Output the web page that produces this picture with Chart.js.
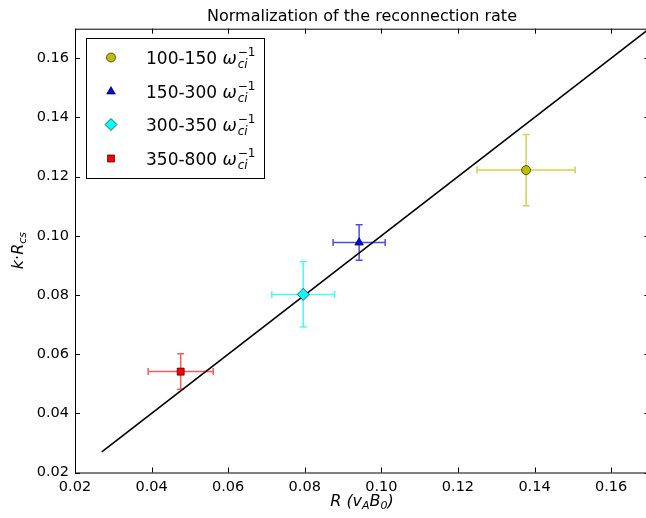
<!DOCTYPE html>
<html>
<head>
<meta charset="utf-8">
<script src="https://cdn.jsdelivr.net/npm/chart.js@4"></script>
<style>
  html, body { margin: 0; padding: 0; background: #fff; overflow: hidden; }
  #wrap { width: 656px; height: 518px; }
</style>
</head>
<body>
<div id="wrap"><canvas id="chart" width="656" height="518"></canvas></div>
<script>
/* ----------------------------------------------------------
   Data
   ---------------------------------------------------------- */
const seriesLabels = ['100-150', '150-300', '300-350', '350-800'];
const rValues   = [0.1378, 0.0942, 0.0796, 0.0476];
const kRValues  = [0.1222, 0.0977, 0.0802, 0.0541];
const rErrors   = [0.0128, 0.0068, 0.0082, 0.0085];
const kRErrors  = [0.0120, 0.0060, 0.0110, 0.0060];

const fitR  = [0.027, 0.17];
const fitKR = [0.027, 0.17];

const xTicks = [0.02, 0.04, 0.06, 0.08, 0.10, 0.12, 0.14, 0.16];
const yTicks = [0.02, 0.04, 0.06, 0.08, 0.10, 0.12, 0.14, 0.16];

/* ----------------------------------------------------------
   Styling
   ---------------------------------------------------------- */
const FONT = "'DejaVu Sans', sans-serif";
const markerFill   = ['#bfbf00', '#0000ff', '#00ffff', '#ff0000'];
const errColor     = ['rgba(191,191,0,0.7)', 'rgba(0,0,230,0.7)', 'rgba(0,255,255,0.75)', 'rgba(255,0,0,0.65)'];
const markerStyle  = ['circle', 'triangle', 'rectRot', 'rect'];
const markerRadius = [4.5, 5, 6, 5];

const datasets = seriesLabels.map((lab, i) => ({
  type: 'scatter',
  label: lab,
  data: [{ x: rValues[i], y: kRValues[i] }],
  pointStyle: markerStyle[i],
  pointRadius: markerRadius[i],
  pointHoverRadius: markerRadius[i],
  backgroundColor: markerFill[i],
  borderColor: '#000',
  borderWidth: 0.6,
  order: 1,
}));

datasets.push({
  type: 'line',
  label: 'fit',
  data: fitR.map((r, i) => ({ x: r, y: fitKR[i] })),
  borderColor: '#000',
  borderWidth: 1.6,
  pointRadius: 0,
  fill: false,
  order: 2,
});

/* ----------------------------------------------------------
   Plugin: error bars, frame, inward ticks, legend, titles
   ---------------------------------------------------------- */
function drawText(ctx, parts, x, y) {
  // parts: [{t, size, italic, dy}]
  let cx = x;
  parts.forEach(p => {
    ctx.font = `${p.italic ? 'italic ' : ''}${p.size}px ${FONT}`;
    ctx.fillText(p.t, cx, y + (p.dy || 0));
    cx += ctx.measureText(p.t).width;
  });
  return cx - x;
}

function textWidth(ctx, parts) {
  let w = 0;
  parts.forEach(p => {
    ctx.font = `${p.italic ? 'italic ' : ''}${p.size}px ${FONT}`;
    w += ctx.measureText(p.t).width;
  });
  return w;
}

const decor = {
  id: 'decor',
  beforeDatasetsDraw(chart) {
    const { ctx, scales: { x, y } } = chart;
    ctx.save();
    ctx.lineWidth = 1.5;
    const cap = 3.5;
    seriesLabels.forEach((_, i) => {
      const px = x.getPixelForValue(rValues[i]);
      const py = y.getPixelForValue(kRValues[i]);
      const x0 = x.getPixelForValue(rValues[i] - rErrors[i]);
      const x1 = x.getPixelForValue(rValues[i] + rErrors[i]);
      const y0 = y.getPixelForValue(kRValues[i] - kRErrors[i]);
      const y1 = y.getPixelForValue(kRValues[i] + kRErrors[i]);
      ctx.strokeStyle = errColor[i];
      ctx.beginPath();
      ctx.moveTo(x0, py); ctx.lineTo(x1, py);
      ctx.moveTo(px, y0); ctx.lineTo(px, y1);
      ctx.moveTo(x0, py - cap); ctx.lineTo(x0, py + cap);
      ctx.moveTo(x1, py - cap); ctx.lineTo(x1, py + cap);
      ctx.moveTo(px - cap, y0); ctx.lineTo(px + cap, y0);
      ctx.moveTo(px - cap, y1); ctx.lineTo(px + cap, y1);
      ctx.stroke();
    });
    ctx.restore();
  },
  afterDraw(chart) {
    const { ctx, chartArea: a, scales: { x, y } } = chart;
    ctx.save();

    // frame
    ctx.strokeStyle = '#000';
    ctx.lineWidth = 1;
    ctx.strokeRect(a.left + 0.5, a.top + 0.5, a.right - a.left, a.bottom - a.top);

    // inward ticks on all four sides
    const tl = 5;
    ctx.beginPath();
    xTicks.forEach(v => {
      const px = Math.round(x.getPixelForValue(v)) + 0.5;
      ctx.moveTo(px, a.bottom); ctx.lineTo(px, a.bottom - tl);
      ctx.moveTo(px, a.top); ctx.lineTo(px, a.top + tl);
    });
    yTicks.forEach(v => {
      const py = Math.round(y.getPixelForValue(v)) + 0.5;
      ctx.moveTo(a.left, py); ctx.lineTo(a.left + tl, py);
      ctx.moveTo(a.right, py); ctx.lineTo(a.right - tl, py);
    });
    ctx.stroke();

    // legend box
    const lx = 86.5, ly = 38.5, lw = 178, lh = 140;
    ctx.fillStyle = '#fff';
    ctx.fillRect(lx, ly, lw, lh);
    ctx.strokeStyle = '#000';
    ctx.strokeRect(lx, ly, lw, lh);
    const rowY = [57.5, 91.5, 124.5, 158.5];
    seriesLabels.forEach((lab, i) => {
      ctx.fillStyle = markerFill[i];
      ctx.strokeStyle = '#000';
      ctx.lineWidth = 0.6;
      Chart.helpers.drawPoint(ctx, {
        pointStyle: markerStyle[i], radius: markerRadius[i], rotation: 0, borderWidth: 0.6,
      }, 111, rowY[i]);
      ctx.fillStyle = '#000';
      ctx.textAlign = 'left';
      ctx.textBaseline = 'alphabetic';
      const base = rowY[i] + 6;
      const w = drawText(ctx, [{ t: lab + ' ', size: 17 }], 146, base);
      const ox = 146 + w;
      drawText(ctx, [{ t: '\u03c9', size: 17, italic: true }], ox, base);
      ctx.font = `italic 17px ${FONT}`;
      const ow = ctx.measureText('\u03c9').width + 1;
      drawText(ctx, [{ t: '\u22121', size: 12 }], ox + ow, base - 8);
      drawText(ctx, [{ t: 'ci', size: 12, italic: true }], ox + ow, base + 4);
    });

    // title
    ctx.fillStyle = '#000';
    ctx.textAlign = 'center';
    ctx.textBaseline = 'alphabetic';
    ctx.font = `16px ${FONT}`;
    ctx.fillText('Normalization of the reconnection rate', 362, 21);

    // x axis title: R (v_A B_0)
    ctx.textAlign = 'left';
    const xParts = [
      { t: 'R', size: 16, italic: true },
      { t: ' (', size: 16, italic: true },
      { t: 'v', size: 16, italic: true },
      { t: 'A', size: 11, italic: true, dy: 3 },
      { t: 'B', size: 16, italic: true },
      { t: '0', size: 11, italic: true, dy: 3 },
      { t: ')', size: 16, italic: true },
    ];
    const xw = textWidth(ctx, xParts);
    drawText(ctx, xParts, 362 - xw / 2, 506);

    // y axis title: k·R_cs
    const yParts = [
      { t: 'k', size: 16, italic: true },
      { t: '\u00b7', size: 16 },
      { t: 'R', size: 16, italic: true },
      { t: 'cs', size: 11, italic: true, dy: 3 },
    ];
    const yw = textWidth(ctx, yParts);
    ctx.translate(23, (a.top + a.bottom) / 2);
    ctx.rotate(-Math.PI / 2);
    drawText(ctx, yParts, -yw / 2, 0);

    ctx.restore();
  },
};

/* ----------------------------------------------------------
   Chart
   ---------------------------------------------------------- */
new Chart(document.getElementById('chart'), {
  type: 'scatter',
  data: { datasets },
  options: {
    responsive: false,
    animation: false,
    devicePixelRatio: 1,
    layout: { padding: { top: 28.7, right: 0, left: 0, bottom: 0 } },
    plugins: {
      legend: { display: false },
      tooltip: { enabled: false },
      title: { display: false },
    },
    scales: {
      x: {
        type: 'linear',
        min: 0.02, max: 0.17,
        grid: { display: false, drawTicks: false },
        border: { display: false },
        afterBuildTicks: s => { s.ticks = xTicks.map(v => ({ value: v })); },
        afterFit: s => { s.height = 45.5; },
        ticks: {
          padding: 6,
          color: '#000',
          font: { family: FONT, size: 14.5 },
          maxRotation: 0,
          callback: v => v.toFixed(2),
        },
      },
      y: {
        type: 'linear',
        min: 0.02, max: 0.17,
        grid: { display: false, drawTicks: false },
        border: { display: false },
        afterBuildTicks: s => { s.ticks = yTicks.map(v => ({ value: v })); },
        afterFit: s => { s.width = 75; },
        ticks: {
          padding: 6,
          color: '#000',
          font: { family: FONT, size: 14.5 },
          callback: v => v.toFixed(2),
        },
      },
    },
  },
  plugins: [decor],
});
</script>
</body>
</html>
